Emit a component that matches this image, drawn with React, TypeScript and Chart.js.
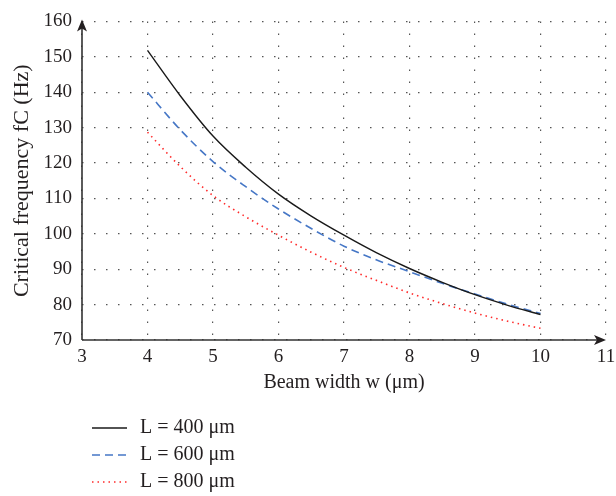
import React, { useEffect, useRef } from "react";
import { Chart, registerables } from "chart.js";

Chart.register(...registerables);

const widths = [4, 4.5, 5, 5.5, 6, 6.5, 7, 7.5, 8, 8.5, 9, 9.5, 10];
const freqL400 = [151.8, 139.0, 127.6, 118.8, 111.2, 105.0, 99.6, 94.6, 90.2, 86.3, 82.8, 79.8, 77.2];
const freqL600 = [140.0, 129.4, 120.4, 113.3, 107.0, 101.5, 96.5, 92.6, 89.3, 86.0, 83.0, 80.1, 77.5];
const freqL800 = [128.7, 119.0, 110.8, 104.8, 99.6, 94.8, 90.5, 86.8, 83.3, 80.3, 77.6, 75.3, 73.3];
const seriesLabels = ["L = 400 μm", "L = 600 μm", "L = 800 μm"];
const xTitle = "Beam width w (μm)";
const yTitle = "Critical frequency fC (Hz)";

const FONT = "'Liberation Serif', 'Times New Roman', serif";
const TEXT = "#231f20";

const decorPlugin = {
  id: "decor",
  afterDraw(chart: any) {
    const ctx = chart.ctx;
    const xs = chart.scales.x;
    const ys = chart.scales.y;
    const x0 = xs.getPixelForValue(3);
    const x1 = xs.getPixelForValue(11);
    const y0 = ys.getPixelForValue(70);
    const y1 = ys.getPixelForValue(160);
    ctx.save();
    ctx.strokeStyle = "#333333";
    ctx.fillStyle = "#231f20";
    ctx.lineWidth = 1.6;
    ctx.setLineDash([]);
    ctx.beginPath();
    ctx.moveTo(x0, y0);
    ctx.lineTo(x1 - 6, y0);
    ctx.moveTo(x0, y0);
    ctx.lineTo(x0, y1 + 6);
    ctx.stroke();
    // x arrow
    ctx.beginPath();
    ctx.moveTo(x1, y0);
    ctx.lineTo(x1 - 12, y0 - 5);
    ctx.lineTo(x1 - 9, y0);
    ctx.lineTo(x1 - 12, y0 + 5);
    ctx.closePath();
    ctx.fill();
    // y arrow
    ctx.beginPath();
    ctx.moveTo(x0, y1 - 2);
    ctx.lineTo(x0 - 5, y1 + 10);
    ctx.lineTo(x0, y1 + 7);
    ctx.lineTo(x0 + 5, y1 + 10);
    ctx.closePath();
    ctx.fill();

    // legend
    ctx.font = "20px " + FONT;
    ctx.textBaseline = "middle";
    ctx.textAlign = "left";
    chart.data.datasets.forEach((ds: any, i: number) => {
      const y = 428 + i * 27;
      ctx.strokeStyle = ds.borderColor;
      ctx.lineWidth = ds.borderWidth;
      ctx.setLineDash(ds.borderDash || []);
      ctx.beginPath();
      ctx.moveTo(92, y);
      ctx.lineTo(127, y);
      ctx.stroke();
      ctx.setLineDash([]);
      ctx.fillStyle = TEXT;
      ctx.fillText(ds.label, 140, y);
    });
    ctx.restore();
  },
};

export default function App() {
  const ref = useRef<HTMLCanvasElement>(null);
  useEffect(() => {
    if (!ref.current) return;
    const chart = new Chart(ref.current, {
      type: "line",
      data: {
        datasets: [
          {
            label: seriesLabels[0],
            data: widths.map((w, i) => ({ x: w, y: freqL400[i] })),
            borderColor: "#1a1a1a",
            borderWidth: 1.4,
            pointRadius: 0,
            cubicInterpolationMode: "monotone",
            fill: false,
          },
          {
            label: seriesLabels[1],
            data: widths.map((w, i) => ({ x: w, y: freqL600[i] })),
            borderColor: "#4677c6",
            borderWidth: 1.6,
            borderDash: [8, 5],
            pointRadius: 0,
            cubicInterpolationMode: "monotone",
            fill: false,
          },
          {
            label: seriesLabels[2],
            data: widths.map((w, i) => ({ x: w, y: freqL800[i] })),
            borderColor: "#ff2a2a",
            borderWidth: 1.6,
            borderDash: [1.5, 4],
            pointRadius: 0,
            cubicInterpolationMode: "monotone",
            fill: false,
          },
        ],
      },
      options: {
        animation: false,
        responsive: false,
        maintainAspectRatio: false,
        layout: { padding: { left: 0, right: 10, top: 13, bottom: 96 } },
        plugins: { legend: { display: false }, tooltip: { enabled: false } },
        scales: {
          x: {
            type: "linear",
            min: 3,
            max: 11,
            afterFit: (s: any) => {
              s.height = 60;
              s.paddingRight = 0;
              s.paddingLeft = 0;
            },
            ticks: {
              stepSize: 1,
              padding: 6,
              color: TEXT,
              font: { family: FONT, size: 19 },
            },
            grid: { drawTicks: false, color: "#555555", lineWidth: 1.2 },
            border: { display: false, dash: [1.5, 10.5] },
            title: {
              display: true,
              text: xTitle,
              color: TEXT,
              font: { family: FONT, size: 20 },
              padding: { top: 0, bottom: 5 },
            },
          },
          y: {
            type: "linear",
            min: 70,
            max: 160,
            afterFit: (s: any) => {
              s.width = 82;
            },
            ticks: {
              stepSize: 10,
              padding: 10,
              color: TEXT,
              font: { family: FONT, size: 19 },
            },
            grid: { drawTicks: false, color: "#555555", lineWidth: 1.2 },
            border: { display: false, dash: [1.5, 10.5] },
            title: {
              display: true,
              text: yTitle,
              color: TEXT,
              font: { family: FONT, size: 22 },
              padding: { top: 9, bottom: 0 },
            },
          },
        },
      },
      plugins: [decorPlugin],
    });
    return () => chart.destroy();
  }, []);
  return (
    <div style={{ position: "fixed", left: 0, top: 0, width: 616, height: 496, background: "#fff" }}>
      <canvas ref={ref} width={616} height={496} style={{ width: 616, height: 496, display: "block" }} />
    </div>
  );
}
